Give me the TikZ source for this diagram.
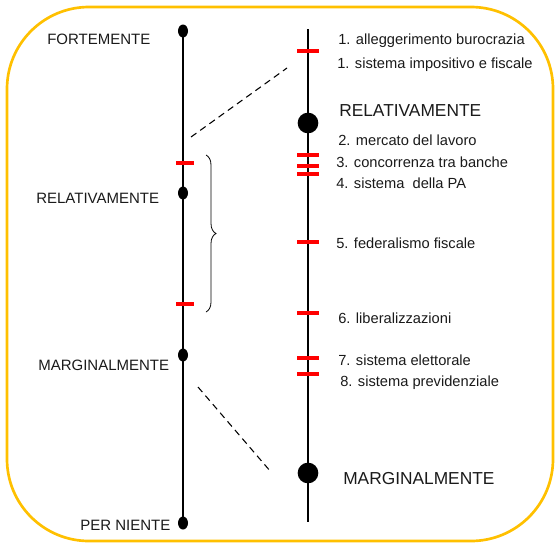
\documentclass[tikz,border=0pt]{standalone}
\usepackage{fontspec}
\setmainfont{Liberation Sans}
\usetikzlibrary{shapes.geometric,decorations.pathreplacing}
\definecolor{frameC}{HTML}{FFC000}
\definecolor{tickC}{HTML}{FF0000}
\definecolor{txtC}{HTML}{1A1A1A}
\begin{document}
\begin{tikzpicture}[x=0.75pt,y=-0.75pt,
  dotS/.style={ellipse,fill=black,inner sep=0,minimum width=7.5pt,minimum height=9.75pt},
  bigdot/.style={circle,fill=black,inner sep=0,minimum size=15.5pt},
  tickL/.style={fill=tickC,inner sep=0,minimum width=13.5pt,minimum height=3pt},
  tickR/.style={fill=tickC,inner sep=0,minimum width=16.5pt,minimum height=3.2pt},
  lbl/.style={font=\fontsize{11}{13}\selectfont,text=txtC,inner sep=0,anchor=base west},
  biglbl/.style={font=\fontsize{13}{15}\selectfont,text=txtC,inner sep=0,anchor=base west},
  leftlbl/.style={font=\fontsize{11.25}{13}\selectfont,text=txtC,inner sep=0,anchor=base west},
  dashline/.style={line width=0.8pt,dash pattern=on 5pt off 3.5pt}]
\useasboundingbox (0,0) rectangle (555,543);
\draw[frameC,line width=2pt,rounded corners=61.5pt] (7,7) rectangle (553,541);

% left scale
\node[dotS] (fT) at (183,31) {};
\node[dotS] (rel) at (183,193) {};
\node[dotS] (marg) at (183,355) {};
\node[dotS] (per) at (183,523) {};
\draw[line width=2pt] (fT.center) -- (per.center);
\node[tickL] (lt1) at (185,163) {};
\node[tickL] (lt2) at (185,304) {};

\node[leftlbl] (lFort) at (47,44) {FORTEMENTE};
\node[leftlbl] (lRel) at (36,203) {RELATIVAMENTE};
\node[leftlbl] (lMarg) at (38,370) {MARGINALMENTE};
\node[leftlbl] (lPer) at (80,530) {PER NIENTE};

% brace
\coordinate (bTop) at (206,155);
\coordinate (bBot) at (206,312);
\draw[line width=0.6pt,decorate,decoration={brace,amplitude=7.5pt}] (bTop) -- (bBot);

% dashed zoom lines
\coordinate (d1a) at (191,137);
\coordinate (d1b) at (287,68);
\coordinate (d2a) at (198,387);
\coordinate (d2b) at (271,472);
\draw[dashline] (d1a) -- (d1b);
\draw[dashline] (d2a) -- (d2b);

% right scale
\coordinate (rTop) at (308,29);
\coordinate (rBot) at (308,522);
\draw[line width=1.2pt] (rTop) -- (rBot);
\node[bigdot] (rRel) at (308,123) {};
\node[bigdot] (rMarg) at (308,473) {};
\node[tickR] (t1) at (308,51) {};
\node[tickR] (t2) at (308,155) {};
\node[tickR] (t3) at (308,166) {};
\node[tickR] (t4) at (308,174) {};
\node[tickR] (t5) at (308,242) {};
\node[tickR] (t6) at (308,313) {};
\node[tickR] (t7) at (308,358) {};
\node[tickR] (t8) at (308,374) {};

\node[lbl] (a1) at (338,44) {1. alleggerimento burocrazia};
\node[lbl] (a2) at (337,68) {1. sistema impositivo e fiscale};
\node[biglbl] (aRel) at (339,116) {RELATIVAMENTE};
\node[lbl] (a3) at (338,145) {2. mercato del lavoro};
\node[lbl] (a4) at (336,167) {3. concorrenza tra banche};
\node[lbl] (a5) at (336,188) {4. sistema\ \ della PA};
\node[lbl] (a6) at (336,248) {5. federalismo fiscale};
\node[lbl] (a7) at (338,323) {6. liberalizzazioni};
\node[lbl] (a8) at (338,365) {7. sistema elettorale};
\node[lbl] (a9) at (340,386) {8. sistema previdenziale};
\node[biglbl] (aMarg) at (343,484) {MARGINALMENTE};
\end{tikzpicture}
\end{document}
